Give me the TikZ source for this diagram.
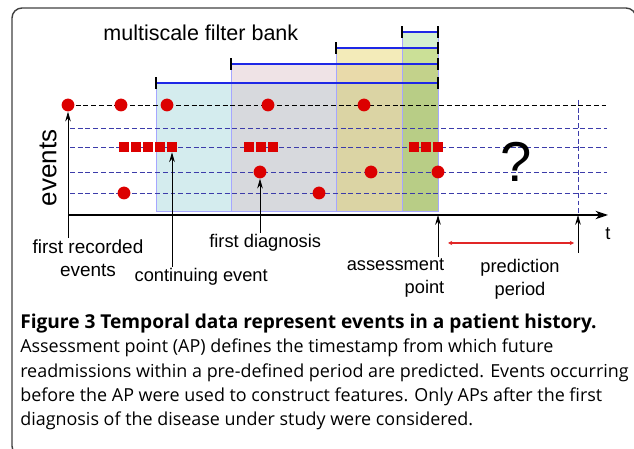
\documentclass[tikz,border=0pt]{standalone}
\usepackage{fontspec}
\setmainfont{Liberation Sans}
\newfontfamily\capfont{Open Sans}
\usetikzlibrary{arrows.meta}
\definecolor{fbcyan}{RGB}{159,213,217}
\definecolor{fbpink}{RGB}{220,193,200}
\definecolor{fbyellow}{RGB}{225,205,80}
\definecolor{fbgreen}{RGB}{45,180,20}
\definecolor{evred}{RGB}{220,0,0}
\definecolor{trackblue}{RGB}{60,60,170}
\definecolor{barblue}{RGB}{30,40,230}
\tikzset{evdot/.style={circle,fill=evred,inner sep=0pt,minimum size=0.32cm},
         evsq/.style={rectangle,fill=evred,inner sep=0pt,minimum size=0.25cm},
         window/.style={draw=blue!35,line width=0.4pt},
         lbl/.style={font=\fontsize{13}{16}\selectfont,align=center,inner sep=1pt},
         pointer/.style={-{Stealth[length=7pt,width=4pt]},line width=0.6pt},
         track/.style={dash pattern=on 3.5pt off 2pt,line width=0.6pt}}

\begin{document}
\begin{tikzpicture}
    \useasboundingbox (0,0) rectangle (15.85,11.2);
    % рамка
    \draw[line width=1pt,draw=black!75,rounded corners=0.25cm] (0.3,-0.2) rectangle (15.9,11.0);

    % окна фильтров
    \foreach \xl/\yt/\col/\op in {3.9/9.125/fbcyan/0.45, 5.775/9.6/fbpink/0.45, 8.4/10.0/fbyellow/0.4, 10.05/10.4/fbgreen/0.2}
        \filldraw[window,fill=\col,fill opacity=\op] (\xl,5.925) rectangle (10.95,\yt);
    \foreach \xl/\yt in {3.9/9.125, 5.775/9.6, 8.4/10.0, 10.05/10.4}{
        \draw[barblue,line width=1.1pt] (\xl,\yt) -- (10.95,\yt);
        \draw[line width=0.8pt] (\xl,\yt-0.15) -- (\xl,\yt+0.15);
        \draw[line width=0.8pt] (10.95,\yt-0.15) -- (10.95,\yt+0.15);
    }
    \node[font=\fontsize{15.3}{18}\selectfont] (fbank) at (5.02,10.375) {multiscale filter bank};

    % дорожки событий
    \draw[track] (1.7,8.575) -- (15.175,8.575);
    \foreach \y in {8.0,7.525,6.9,6.375}
        \draw[track,trackblue] (1.75,\y) -- (15.175,\y);
    \draw[track,trackblue] (14.45,8.7) -- (14.45,5.825);

    % ось времени
    \coordinate (t0) at (1.7,5.825);
    \coordinate (t1) at (15.2,5.825);
    \coordinate (ap) at (10.95,5.825);
    \coordinate (pe) at (14.45,5.825);
    \draw[-{Stealth[length=9pt,width=6pt]},line width=0.9pt] (t0) -- (t1);
    \node[font=\fontsize{13}{16}\selectfont] (tlab) at (15.2,5.35) {t};
    \node[rotate=90,font=\fontsize{18.5}{20}\selectfont] (ylab) at (1.2,7.0) {events};

    % события
    \foreach \n/\x in {a1/1.7, a2/3.025, a3/4.175, a4/6.7, a5/9.1}
        \node[evdot] (\n) at (\x,8.575) {};
    \foreach \n/\x in {c1/6.5, c2/9.275, c3/10.95}
        \node[evdot] (\n) at (\x,6.9) {};
    \foreach \n/\x in {d1/3.1, d2/7.975}
        \node[evdot] (\n) at (\x,6.375) {};
    \foreach \n/\x in {b1/3.1, b2/3.4, b3/3.7, b4/4.0, b5/4.3, b6/6.225, b7/6.525, b8/6.825, b9/10.35, b10/10.65, b11/10.95}
        \node[evsq] (\n) at (\x,7.525) {};
    \node[font=\fontsize{40}{40}\selectfont] (qm) at (12.9,7.15) {?};

    % подписи
    \node[lbl,font=\fontsize{13.5}{16}\selectfont] (frst) at (2.2,4.75) {first recorded\\events};
    \node[lbl] (cont) at (5.03,4.27) {continuing event};
    \node[lbl] (diag) at (6.63,5.125) {first diagnosis};
    \node[lbl,align=right,anchor=east] (asp) at (11.15,4.25) {assessment\\point};
    \node[lbl] (pred) at (13.0,4.22) {prediction\\period};
    \draw[pointer] (frst.north -| a1) -- (a1);
    \draw[pointer] (cont.north -| b5) -- (b5);
    \draw[pointer] (diag.north -| c1) -- (c1);
    \draw[pointer] (asp.north -| ap) -- (ap);
    \coordinate (pe0) at (14.45,4.875);
    \draw[pointer] (pe0) -- (pe);
    % период прогноза
    \coordinate (pp1) at (11.2,5.125);
    \coordinate (pp2) at (14.35,5.125);
    \draw[evred!85,line width=0.8pt,{Stealth[length=3pt,width=3pt]}-{Stealth[length=3pt,width=3pt]}] (pp1) -- (pp2);

    % подпись к рисунку
    \node[anchor=north west,align=left,inner sep=0pt,font=\capfont\fontsize{12.75}{17.3}\selectfont] (cap) at (0.5,3.36)
        {{\fontsize{13.6}{17.3}\selectfont\bfseries Figure 3 Temporal data represent events in a patient history.}\\
         Assessment point (AP) defines the timestamp from which future\\
         readmissions within a pre-defined period are predicted. Events occurring\\
         before the AP were used to construct features. Only APs after the first\\
         diagnosis of the disease under study were considered.};
\end{tikzpicture}
\end{document}
